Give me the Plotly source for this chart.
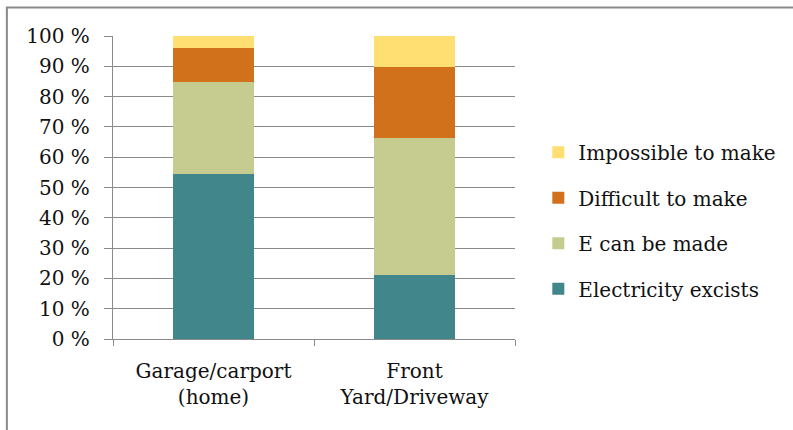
import plotly.graph_objects as go

# Share of respondents by charging location and feasibility of an outlet
categories = ["Garage/carport<br>(home)", "Front<br>Yard/Driveway"]
electricity_exists = [54.5, 21.0]
can_be_made = [30.3, 45.4]
difficult_to_make = [11.3, 23.5]
impossible_to_make = [3.9, 10.1]

series = [
    ("Electricity excists", electricity_exists, "#41868b", 4),
    ("E can be made", can_be_made, "#c6cc8f", 3),
    ("Difficult to make", difficult_to_make, "#d2711b", 2),
    ("Impossible to make", impossible_to_make, "#ffdf71", 1),
]

FONT = "DejaVu Serif"
GRID = "#8a8a8a"

fig = go.Figure()
for name, values, color, rank in series:
    fig.add_trace(go.Bar(
        x=categories, y=values, name=name, legendgroup=name, legendrank=rank,
        marker=dict(color=color, line=dict(width=0)),
    ))

fig.update_layout(
    width=793, height=430,
    barmode="stack", bargap=0.6,
    margin=dict(l=113, r=278, t=36, b=91, autoexpand=False),
    paper_bgcolor="white", plot_bgcolor="white",
    font=dict(family=FONT, size=20, color="#111111"),
    legend=dict(
        x=1.058, y=0.39, xanchor="left", yanchor="middle",
        traceorder="grouped", tracegroupgap=16.5,
        font=dict(family=FONT, size=20, color="#111111"),
        itemwidth=30,
    ),
    showlegend=True,
)

fig.update_yaxes(
    range=[0, 100], dtick=10, ticksuffix=" %",
    showgrid=True, gridcolor=GRID, gridwidth=1.4,
    showline=True, linecolor=GRID, linewidth=1.4,
    ticks="outside", ticklen=8, tickcolor=GRID, tickwidth=1.4,
    ticklabelstandoff=10, zeroline=False,
)
fig.update_xaxes(
    showline=True, linecolor=GRID, linewidth=1.4,
    ticks="outside", ticklen=6, tickcolor=GRID, tickwidth=1.4,
    tickson="boundaries", ticklabelstandoff=14,
)

# Outer chart frame (left and top edges visible within the page)
fig.add_shape(
    type="rect", xref="paper", yref="paper",
    x0=-0.264, x1=1.8, y0=-0.5, y1=1.094,
    line=dict(color="#8a8a8a", width=2), fillcolor="rgba(0,0,0,0)",
    layer="below",
)

fig.write_html("out.html")
